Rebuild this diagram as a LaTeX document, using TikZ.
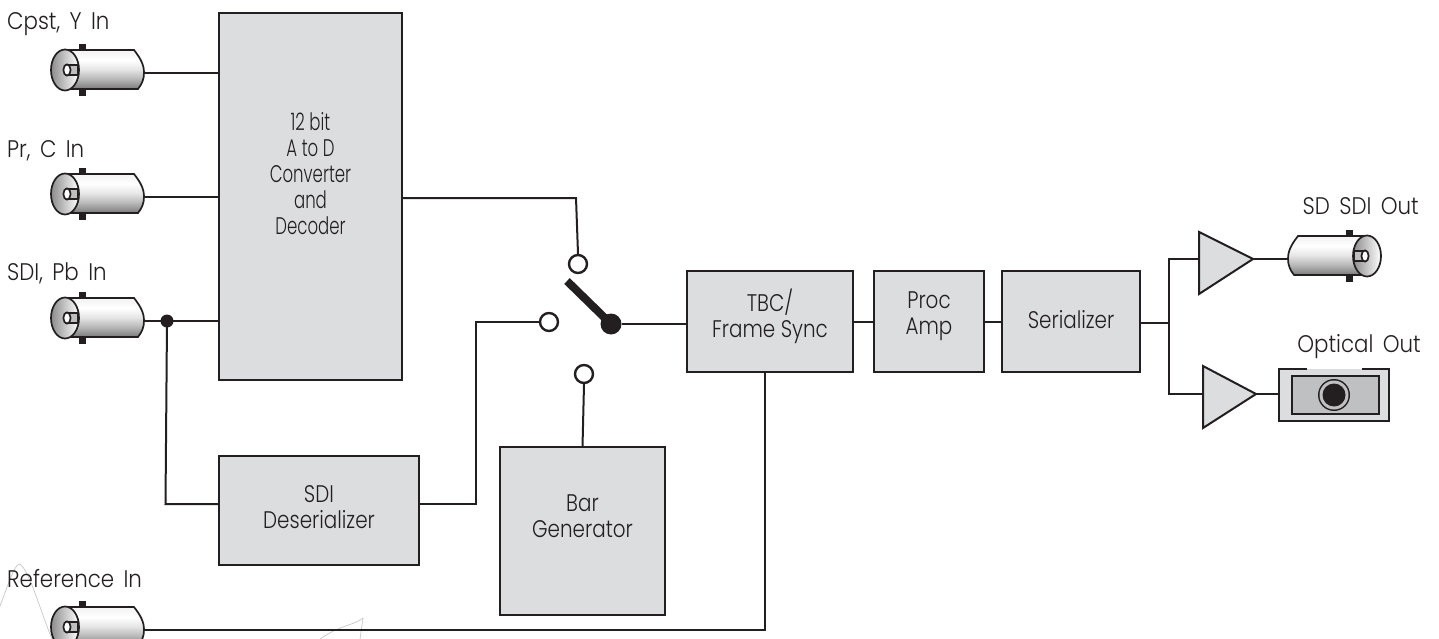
\documentclass[tikz,border=0pt]{standalone}
\usepackage{fontspec}
\setmainfont{Poppins Light}[FakeStretch=0.83]
\newfontfamily\narrowf{Poppins Light}[FakeStretch=0.69]
\newfontfamily\labf{Poppins Light}[FakeStretch=0.89,WordSpace=1.6]
\definecolor{boxgray}{HTML}{DCDDDF}
\definecolor{ink}{HTML}{231F20}
\definecolor{midgray}{HTML}{BFC0C2}
\tikzset{
 x=1pt,y=-1pt,
 wire/.style={draw=ink,line width=2pt},
 block/.style={draw=ink,line width=2.2pt,fill=boxgray},
 blocktxt/.style={align=center,font=\fontsize{24}{26}\selectfont,text=ink,inner sep=0pt},
 lab/.style={font=\labf\fontsize{24}{26}\selectfont,text=ink,anchor=base west,inner sep=0pt},
 amp/.style={draw=ink,line width=2pt,fill=boxgray,line join=miter},
 swc/.style={circle,draw=ink,line width=2.4pt,fill=white,minimum size=18pt,inner sep=0pt},
}
\pgfdeclareverticalshading{bncshade}{100bp}{color(0bp)=(black!52); color(25bp)=(black!52); color(38bp)=(black!28); color(50bp)=(black!10); color(62bp)=(white); color(72bp)=(black!4); color(100bp)=(black!4)}
\newcommand{\bncbody}[1][1]{%
 \fill[ink] (79,-29) rectangle (86,-22);
 \ifnum#1=1 \fill[ink] (79,16) rectangle (86,23);\fi
 \shade[shading=bncshade,draw=none]
   (65,-23) -- (134,-23) .. controls (141,-14) and (144,-8) .. (144,0) .. controls (144,6) and (142,11) .. (138,16) -- (65,16) -- cycle;
 \draw[ink,line width=1.7pt] (65,-23) -- (134,-23) .. controls (141,-14) and (144,-8) .. (144,0) .. controls (144,6) and (142,11) .. (138,16) -- (65,16);
 \shade[left color=black!45,right color=white,draw=none] (65,-3) ellipse (14pt and 20.5pt);
 \draw[ink,line width=1.7pt] (65,-3) ellipse (14pt and 20.5pt);
 \draw[ink,line width=1.2pt,fill=black!25] (66,-8) rectangle (78,2);
 \draw[ink,line width=1.7pt,fill=white] (67,-3) ellipse (3.6pt and 5.6pt);
}
\begin{document}
\begin{tikzpicture}
\useasboundingbox (0,0) rectangle (1439,639);
% faint scratches
\draw[black!22,line width=.7pt] (0,606) .. controls (8,585) and (14,566) .. (19,564) .. controls (28,566) and (40,610) .. (52,639);
\draw[black!22,line width=.7pt] (320,639) .. controls (340,625) and (355,625) .. (363,618) -- (360,639);
% blocks
\node[block,minimum width=183pt,minimum height=367pt] (adc) at (310.5,196.5) {};
\node[block,minimum width=200pt,minimum height=109pt] (des) at (319,510.5) {};
\node[block,minimum width=165pt,minimum height=168pt] (bar) at (582.5,531) {};
\node[block,minimum width=166pt,minimum height=101pt] (tbc) at (770,321.5) {};
\node[block,minimum width=110pt,minimum height=101pt] (proc) at (929,321.5) {};
\node[block,minimum width=138pt,minimum height=101pt] (ser) at (1071,321.5) {};
\node[blocktxt,font=\narrowf\fontsize{24}{26}\selectfont] (adct) at (310.5,174) {12 bit\\A to D\\Converter\\and\\Decoder};
\node[blocktxt] (dest) at (319,507) {SDI\\Deserializer};
\node[blocktxt] (bart) at (582.5,516) {Bar\\Generator};
\node[blocktxt] (tbct) at (770,316.5) {TBC/\\Frame Sync};
\node[blocktxt] (proct) at (929,316.5) {Proc\\Amp};
\node[blocktxt] (sert) at (1071,319.5) {Serializer};
% connectors in
\begin{scope}[shift={(0,73)}]\bncbody\coordinate (c1) at (144,0);\end{scope}
\begin{scope}[shift={(0,197)}]\bncbody\coordinate (c2) at (144,0);\end{scope}
\begin{scope}[shift={(0,321)}]\bncbody\coordinate (c3) at (144,0);\end{scope}
\begin{scope}[shift={(0,630)}]\bncbody[0]\coordinate (c4) at (144,0);\end{scope}
\begin{scope}[shift={(1432,259)},xscale=-1]\bncbody\coordinate (c5) at (144,0);\end{scope}
% labels
\node[lab] (l1) at (7,30) {Cpst, Y In};
\node[lab] (l2) at (7,158) {Pr, C In};
\node[lab] (l3) at (7,280) {SDI, Pb In};
\node[lab] (l4) at (7,587) {Reference In};
\node[lab,anchor=base east] (l5) at (1419,214) {SD SDI Out};
\node[lab,anchor=base east] (l6) at (1421,352) {Optical Out};
% switch
\node[swc] (st) at (578,264) {};
\node[swc] (sl) at (549,322) {};
\node[swc] (sb) at (584,374) {};
\node[circle,fill=ink,minimum size=21pt,inner sep=0pt] (sc) at (611,324) {};
\draw[ink,line width=8pt] (567,281) -- (sc.center);
% wires
\draw[wire] (c1) -- (c1 -| adc.west);
\draw[wire] (c2) -- (c2 -| adc.west);
\draw[wire] (c3) -- (c3 -| adc.west);
\coordinate (jn) at (167,321);
\fill[ink] (jn) circle (6.5pt);
\draw[wire] (jn) -- (165.5,504) -- (des.west |- 0,504);
\draw[wire] (adc.east |- 0,198) -- (576,198) -- (st.north);
\draw[wire] (des.east |- 0,504) -- (476,504) -- (476,322) -- (sl.west);
\draw[wire] (sb.south) -- (582.5,447);
\draw[wire] (sc) -- (tbc.west |- sc);
\draw[wire] (c4) -- (765,630) -- (765,372);
\draw[wire] (tbc.east) -- (proc.west);
\draw[wire] (proc.east) -- (ser.west);
% amps
\coordinate (a1) at (1199,259);
\coordinate (a2) at (1203,394);
\draw[wire] (ser.east |- 0,323) -- (1169,323);
\draw[wire] (a1) -- (1169,259) -- (1169,394) -- (a2);
\draw[wire] (1253,259) -- (1288,259);
\draw[wire] (1256,394) -- (1279,394);
\draw[amp] (1199,232) -- (1253,259) -- (1199,294) -- cycle;
\draw[amp] (1203,366) -- (1256,394) -- (1203,428) -- cycle;
% optical
\fill[boxgray] (1279,369) rectangle (1389,421);
\draw[ink,line width=2pt] (1307,369) -- (1279,369) -- (1279,421) -- (1389,421) -- (1389,369) -- (1362,369);
\draw[ink,line width=2.2pt,fill=midgray] (1292,376) rectangle (1379,414);
\fill[ink] (1334,395) circle (16pt);
\fill[midgray] (1334,395) circle (14.5pt);
\fill[ink] (1334,395) circle (11.5pt);
\end{tikzpicture}
\end{document}
